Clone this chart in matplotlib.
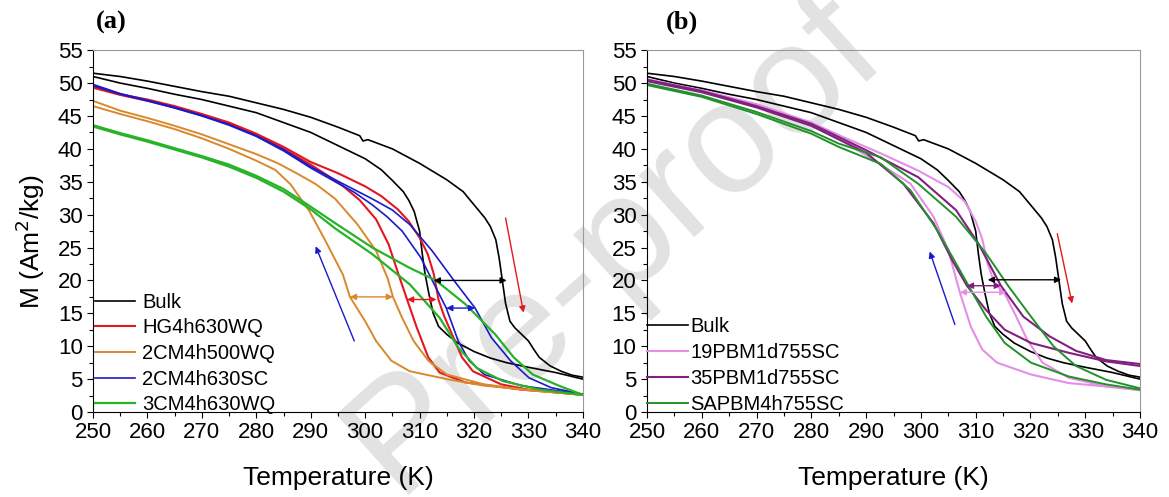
import matplotlib
matplotlib.use("Agg")
import matplotlib.pyplot as plt
from matplotlib.ticker import MultipleLocator

plt.rcParams['font.family'] = ['Liberation Sans', 'DejaVu Sans']

# ---- data ----
# Bulk (shown in both panels)
bulk_heat_T = [250, 255, 260, 265, 270, 275, 280, 285, 290, 295, 299, 299.6, 300.5, 305, 310, 315, 318, 320, 322, 323,
               324, 324.6, 325.2, 325.8, 326.6, 327.5, 328.5, 330, 331, 332, 334, 336, 338, 340]
bulk_heat_M = [51.5, 51.0, 50.3, 49.5, 48.7, 48.0, 47.0, 46.0, 44.8, 43.3, 42.0, 41.2, 41.4, 40.0, 37.8, 35.3, 33.5, 31.5,
               29.5, 28.2, 26.2, 23.5, 20.0, 16.5, 13.8, 12.8, 12.0, 10.8, 9.5, 8.3, 7.0, 6.2, 5.6, 5.3]
bulk_cool_T = [250, 250, 255, 260, 265, 270, 275, 280, 285, 290, 295, 300, 303, 305, 307, 308, 309, 310, 310.5, 311,
               311.7, 312.5, 313.5, 315, 317, 320, 323, 326, 330, 335, 340]
bulk_cool_M = [49.0, 51.0, 50.0, 49.2, 48.3, 47.5, 46.5, 45.5, 44.0, 42.5, 40.5, 38.5, 36.8, 35.2, 33.5, 32.2, 30.5, 27.5,
               24.0, 21.0, 18.0, 15.0, 13.0, 11.8, 10.5, 9.2, 8.2, 7.5, 6.8, 6.0, 5.0]

# panel (a)
hg_heat_T = [250, 255, 260, 265, 270, 275, 280, 285, 290, 295, 300, 303, 306, 308, 310, 311.5, 312.6, 313.5, 314.5,
             315.7, 317.8, 319.8, 325, 330, 340]
hg_heat_M = [49.5, 48.3, 47.5, 46.5, 45.3, 44.0, 42.3, 40.3, 38.0, 36.3, 34.3, 32.8, 30.8, 29.0, 26.5, 24.0, 21.0, 17.0,
             14.6, 12.3, 8.3, 6.2, 4.2, 3.4, 2.6]
hg_cool_T = [250, 255, 260, 265, 270, 275, 280, 285, 290, 293, 296, 299, 302, 304.3, 306.3, 307.7, 309.5, 311.6, 313.7,
             318.4, 328.7, 340]
hg_cool_M = [49.3, 48.2, 47.3, 46.3, 45.1, 43.8, 42.1, 40.0, 37.6, 36.0, 34.3, 32.2, 29.3, 25.5, 20.5, 17.1, 12.8, 8.3,
             6.0, 4.5, 3.4, 2.7]

cm500_heat_T = [250, 255, 260, 265, 270, 275, 280, 284, 287.6, 291, 294.5, 298.6, 302, 304.1, 305.1, 306.8, 308.9,
                311.6, 315, 321.9, 330, 340]
cm500_heat_M = [47.3, 45.8, 44.7, 43.5, 42.2, 40.7, 39.2, 37.8, 36.2, 34.6, 32.4, 28.5, 24.5, 20.4, 17.5, 14.3, 10.8,
                7.8, 5.7, 4.2, 3.3, 2.6]
cm500_cool_T = [250, 255, 260, 265, 270, 275, 280, 283.5, 286.3, 289.7, 292.4, 295.9, 297.2, 300, 302, 304.8, 308.2,
                315, 321.9, 332.1, 340]
cm500_cool_M = [46.5, 45.3, 44.2, 43.0, 41.6, 40.0, 38.2, 36.8, 34.6, 30.6, 26.5, 20.9, 17.5, 13.8, 10.8, 7.8, 6.2,
                5.0, 4.0, 3.2, 2.6]

cm630_heat_T = [250, 255, 260, 265, 270, 275, 280, 285, 290, 294.5, 301.3, 305, 308.2, 312.3, 316.4, 320.2, 323.2,
                326.7, 330.1, 334.2, 340]
cm630_heat_M = [49.8, 48.4, 47.4, 46.3, 45.1, 43.7, 42.0, 39.9, 37.3, 35.3, 32.4, 30.7, 28.5, 24.5, 19.9, 15.8, 11.3,
                7.8, 5.2, 3.7, 2.7]
cm630_cool_T = [250, 255, 260, 265, 270, 275, 280, 285, 290, 294.5, 298, 301.3, 304, 306.8, 310.2, 313, 314.9, 317.1,
                319.1, 321.9, 328.7, 340]
cm630_cool_M = [49.6, 48.3, 47.3, 46.2, 45.0, 43.6, 41.9, 39.7, 37.1, 35.0, 33.4, 31.5, 29.7, 27.5, 23.5, 18.9, 15.8,
                10.8, 7.8, 5.7, 4.0, 2.7]

cm3_heat_T = [250, 255, 260, 265, 270, 275, 280, 285, 290, 294.5, 301.3, 308.2, 313, 318.4, 323.9, 327.3, 330.8, 335.6,
              340]
cm3_heat_M = [43.6, 42.4, 41.3, 40.1, 38.9, 37.6, 35.9, 33.9, 31.2, 28.7, 25.0, 21.9, 20.0, 16.4, 11.8, 8.3, 5.7, 4.0,
              2.6]
cm3_cool_T = [250, 255, 260, 265, 270, 275, 280, 285, 290, 294.5, 301.3, 308.2, 313.7, 317.1, 320.5, 325.3, 332.1, 340]
cm3_cool_M = [43.4, 42.2, 41.1, 39.9, 38.7, 37.3, 35.6, 33.5, 30.8, 27.9, 24.0, 19.4, 14.3, 9.8, 6.7, 4.7, 3.4, 2.6]

# panel (b)
p19_heat_T = [250, 260, 270, 280, 285.8, 292.7, 299.5, 305, 308, 310, 311.2, 312.2, 313.5, 315.3, 317.4, 319.4, 322.2,
              327, 333.8, 340]
p19_heat_M = [50.6, 48.9, 46.8, 44.0, 41.8, 39.3, 36.7, 34.2, 32.0, 29.0, 26.3, 22.5, 19.5, 18.0, 14.5, 11.0, 7.5, 5.2,
              3.9, 3.3]
p19_cool_T = [250, 260, 270, 280, 286, 292, 298.1, 302.3, 305, 307.1, 309.1, 311.2, 313.9, 320.1, 327, 340]
p19_cool_M = [50.4, 48.7, 46.5, 43.6, 41.0, 38.0, 34.7, 29.7, 24.6, 18.2, 13.0, 9.5, 7.5, 5.7, 4.4, 3.4]

p35_heat_T = [250, 260, 270, 280, 290, 299.5, 306.4, 310.5, 314.6, 318.7, 323.5, 328.3, 333.8, 340]
p35_heat_M = [50.5, 48.8, 46.5, 43.8, 39.8, 35.7, 30.7, 25.6, 19.2, 14.5, 11.5, 9.3, 7.9, 7.3]
p35_cool_T = [250, 260, 270, 280, 290, 296.8, 302.3, 305.7, 308.4, 311.9, 315.3, 320.1, 327, 333.8, 340]
p35_cool_M = [50.3, 48.6, 46.3, 43.5, 39.4, 34.7, 28.7, 23.1, 19.2, 15.5, 12.5, 10.5, 9.0, 7.7, 7.0]

sa_heat_T = [250, 260, 270, 280, 285, 292.7, 299.5, 306.4, 311.9, 316, 320.1, 324.2, 328.3, 333.8, 340]
sa_heat_M = [49.9, 48.1, 45.6, 42.7, 40.8, 38.7, 34.7, 29.7, 24.1, 19.1, 14.5, 10.0, 7.0, 4.9, 3.6]
sa_cool_T = [250, 260, 270, 280, 285, 292.7, 298.1, 303, 306.4, 309.1, 311.9, 315.3, 320.1, 327, 333.8, 340]
sa_cool_M = [49.7, 47.9, 45.3, 42.3, 40.3, 37.7, 33.7, 27.6, 22.6, 18.6, 14.5, 10.5, 7.5, 5.4, 4.2, 3.4]

labels_a = ['Bulk', 'HG4h630WQ', '2CM4h500WQ', '2CM4h630SC', '3CM4h630WQ']
labels_b = ['Bulk', '19PBM1d755SC', '35PBM1d755SC', 'SAPBM4h755SC']

BLACK, RED, ORANGE, BLUE, GREEN = 'black', '#e3171e', '#d9892b', '#1a1acb', '#27b327'
PINK, PURPLE, DGREEN = '#e58ee6', '#80207f', '#22912a'

fig = plt.figure(figsize=(11.69, 4.97), dpi=100)
ax1 = fig.add_axes([0.0796, 0.171, 0.419, 0.728])
ax2 = fig.add_axes([0.5535, 0.171, 0.4217, 0.728])

fig.text(0.525, 0.51, 'Pre-proof', fontsize=114, color='#e2e2e2', rotation=42,
         ha='center', va='center', zorder=-5)


def style(ax):
    ax.set_facecolor('none')
    ax.set_xlim(250, 340)
    ax.set_ylim(0, 55)
    ax.xaxis.set_major_locator(MultipleLocator(10))
    ax.xaxis.set_minor_locator(MultipleLocator(5))
    ax.yaxis.set_major_locator(MultipleLocator(5))
    ax.yaxis.set_minor_locator(MultipleLocator(2.5))
    ax.tick_params(which='both', direction='out', top=False, right=False, labelsize=16, width=0.8, pad=3)
    ax.tick_params(which='major', length=4.5)
    ax.tick_params(which='minor', length=3)
    for s in ['top', 'right']:
        ax.spines[s].set_color('#9a9a9a')
    ax.set_xlabel('Temperature (K)', fontsize=19, labelpad=16)


def darrow(ax, t0, t1, m, color):
    ax.annotate('', xy=(t0, m), xytext=(t1, m),
                arrowprops=dict(arrowstyle='<|-|>', color=color, lw=1.0, mutation_scale=9, shrinkA=0, shrinkB=0))


def sarrow(ax, t0, m0, t1, m1, color):
    ax.annotate('', xy=(t1, m1), xytext=(t0, m0),
                arrowprops=dict(arrowstyle='-|>', color=color, lw=1.0, mutation_scale=9, shrinkA=0, shrinkB=0))


# ---- panel (a) ----
h = []
h += ax1.plot(bulk_heat_T, bulk_heat_M, color=BLACK, lw=1.2)
ax1.plot(bulk_cool_T, bulk_cool_M, color=BLACK, lw=1.2)
h += ax1.plot(hg_heat_T, hg_heat_M, color=RED, lw=1.5)
ax1.plot(hg_cool_T, hg_cool_M, color=RED, lw=1.5)
h += ax1.plot(cm500_heat_T, cm500_heat_M, color=ORANGE, lw=1.4)
ax1.plot(cm500_cool_T, cm500_cool_M, color=ORANGE, lw=1.4)
h += ax1.plot(cm630_heat_T, cm630_heat_M, color=BLUE, lw=1.2)
ax1.plot(cm630_cool_T, cm630_cool_M, color=BLUE, lw=1.2)
h += ax1.plot(cm3_heat_T, cm3_heat_M, color=GREEN, lw=1.6)
ax1.plot(cm3_cool_T, cm3_cool_M, color=GREEN, lw=1.6)

darrow(ax1, 312.6, 326.0, 20.0, BLACK)
darrow(ax1, 297.2, 305.1, 17.5, ORANGE)
darrow(ax1, 307.7, 313.1, 17.1, RED)
darrow(ax1, 314.9, 320.2, 15.8, BLUE)
sarrow(ax1, 298.0, 10.8, 290.9, 25.2, BLUE)
sarrow(ax1, 325.8, 29.5, 329.1, 15.1, RED)

style(ax1)
ax1.set_ylabel('M (Am$^2$/kg)', fontsize=19)
ax1.yaxis.set_label_coords(-0.095, 0.47)
ax1.legend(h, labels_a, loc='lower left', bbox_to_anchor=(0.0, -0.012), frameon=False, fontsize=14.5,
           handlelength=2.0, handletextpad=0.35, labelspacing=0.33, borderaxespad=0, borderpad=0.1)
fig.text(0.082, 0.955, '(a)', fontsize=19, fontweight='bold', family='Liberation Serif', va='center')

# ---- panel (b) ----
g = []
g += ax2.plot(bulk_heat_T, bulk_heat_M, color=BLACK, lw=1.2)
ax2.plot(bulk_cool_T, bulk_cool_M, color=BLACK, lw=1.2)
g += ax2.plot(p19_heat_T, p19_heat_M, color=PINK, lw=1.5)
ax2.plot(p19_cool_T, p19_cool_M, color=PINK, lw=1.5)
g += ax2.plot(p35_heat_T, p35_heat_M, color=PURPLE, lw=1.5)
ax2.plot(p35_cool_T, p35_cool_M, color=PURPLE, lw=1.5)
g += ax2.plot(sa_heat_T, sa_heat_M, color=DGREEN, lw=1.4)
ax2.plot(sa_cool_T, sa_cool_M, color=DGREEN, lw=1.4)

darrow(ax2, 312.2, 325.6, 20.1, BLACK)
darrow(ax2, 308.4, 314.6, 19.2, PURPLE)
darrow(ax2, 307.1, 315.6, 18.2, PINK)
sarrow(ax2, 306.2, 13.3, 301.6, 24.4, BLUE)
sarrow(ax2, 324.9, 27.1, 327.6, 16.5, RED)

style(ax2)
ax2.legend(g, labels_b, loc='lower left', bbox_to_anchor=(-0.004, -0.012), frameon=False, fontsize=14.5,
           handlelength=2.05, handletextpad=0.1, labelspacing=0.36, borderaxespad=0, borderpad=0.1)
fig.text(0.570, 0.955, '(b)', fontsize=19, fontweight='bold', family='Liberation Serif', va='center')

fig.savefig('out.png', dpi=100)
